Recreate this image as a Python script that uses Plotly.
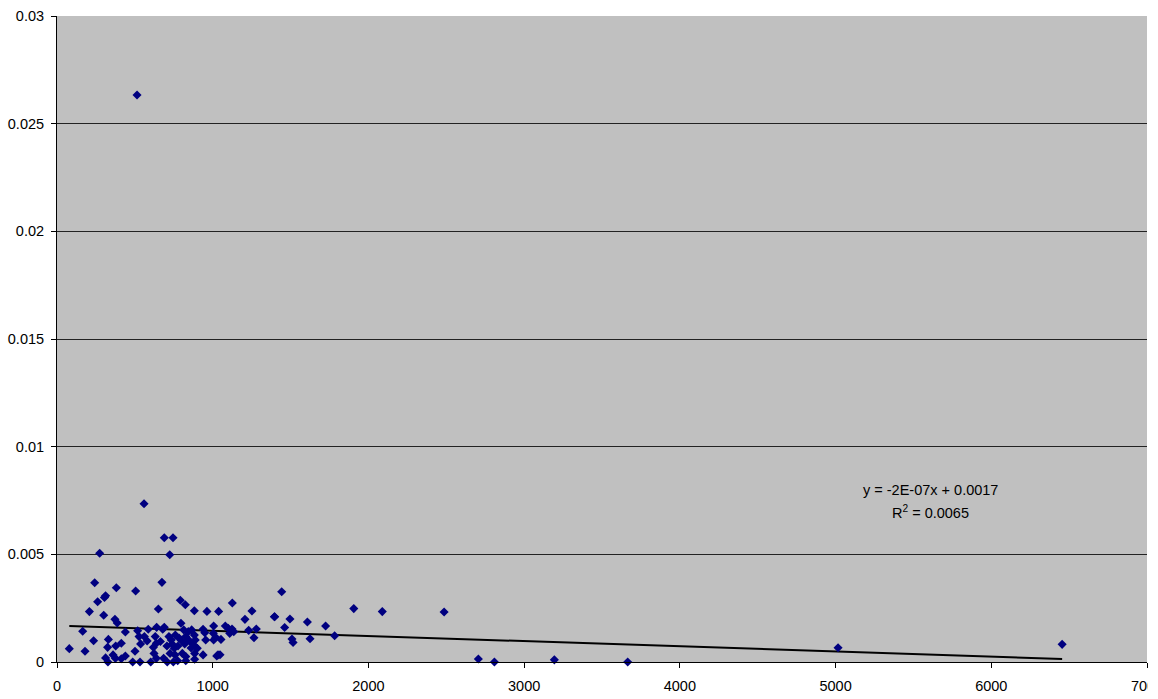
import plotly.graph_objects as go

# Data
x_vals = [274, 724, 689, 745, 559, 514, 242, 381, 674, 505, 261, 305, 312, 792, 824,
          208, 300, 372, 387, 651, 882, 963, 1038, 1126, 1207, 1252, 1396, 165, 79, 180,
          235, 330, 325, 377, 413, 312, 327, 360, 375, 413, 439, 439, 501, 486, 533,
          518, 527, 561, 537, 579, 602, 586, 640, 689, 679, 631, 638, 619, 623, 638,
          664, 685, 708, 747, 719, 734, 760, 784, 706, 739, 753, 777, 726, 758, 805,
          827, 775, 796, 814, 827, 843, 796, 820, 846, 867, 861, 884, 901, 865, 882,
          888, 827, 884, 884, 938, 949, 938, 955, 1006, 1004, 1019, 1006, 1053, 1034, 1047,
          1026, 1081, 1100, 1109, 1124, 1135, 1231, 1265, 1280, 1443, 1398, 1496, 1462, 1608, 1725,
          1509, 1516, 1625, 1783, 1906, 2089, 2486, 2706, 2809, 3194, 3665, 5016, 6455]
y_vals = [0.00505, 0.00498, 0.00577, 0.00577, 0.00735, 0.02633, 0.00368, 0.00345, 0.0037, 0.0033,
          0.0028, 0.0030, 0.00308, 0.00287, 0.00266, 0.00234, 0.00217, 0.00198, 0.00181, 0.00246,
          0.00238, 0.00235, 0.00235, 0.00274, 0.00198, 0.00237, 0.0021, 0.00143, 0.00062, 0.0005,
          0.00099, 0.00105, 0.00068, 0.00074, 0.00087, 0.00019, 0.0, 0.00033, 0.00017, 0.00015,
          0.00139, 0.00028, 0.0005, 0.0, 0.0, 0.00145, 0.00118, 0.00118, 0.00084, 0.00098,
          0.0, 0.00152, 0.00161, 0.00161, 0.00152, 0.00118, 0.00087, 0.00068, 0.0004, 0.00017,
          0.00095, 0.00017, 0.0, 0.0, 0.00118, 0.00102, 0.00125, 0.00111, 0.00074, 0.00084,
          0.00064, 0.00074, 0.0004, 0.00033, 0.0004, 0.00025, 0.00006, 0.0018, 0.00149, 0.00118,
          0.00141, 0.00102, 0.00084, 0.00102, 0.00087, 0.00065, 0.00074, 0.00064, 0.00149, 0.00125,
          0.00102, 0.00006, 0.0004, 0.00013, 0.00152, 0.00136, 0.00033, 0.00102, 0.00167, 0.00133,
          0.00115, 0.00102, 0.00105, 0.00033, 0.00034, 0.00028, 0.00167, 0.00156, 0.00133, 0.00153,
          0.00141, 0.00147, 0.00113, 0.00153, 0.00326, 0.0021, 0.002, 0.0016, 0.00186, 0.00167,
          0.00107, 0.00091, 0.00108, 0.00122, 0.00248, 0.00234, 0.00232, 0.00014, 0.0, 0.0001,
          0.0, 0.00066, 0.00082]

trend_slope = -2.4e-07
trend_intercept = 0.00169
eq_label = "y = -2E-07x + 0.0017"
r2_label = "R<sup>2</sup> = 0.0065"

x_ticks = [0, 1000, 2000, 3000, 4000, 5000, 6000, 7000]
y_ticks = [0, 0.005, 0.01, 0.015, 0.02, 0.025, 0.03]

FONT = "Liberation Sans, Arial"
FS = 14.5

x_min, x_max = min(x_vals), max(x_vals)
trend_x = [x_min, x_max]
trend_y = [trend_intercept + trend_slope * v for v in trend_x]

fig = go.Figure()
fig.add_trace(go.Scatter(
    x=trend_x, y=trend_y, mode="lines",
    line=dict(color="black", width=2), hoverinfo="skip", cliponaxis=False))
fig.add_trace(go.Scatter(
    x=x_vals, y=y_vals, mode="markers",
    marker=dict(symbol="diamond", size=7, color="#000080", line=dict(width=0)),
    cliponaxis=False))

fig.add_annotation(x=5607, y=0.0080, xref="x", yref="y", text=eq_label,
                   showarrow=False, font=dict(family=FONT, size=FS, color="black"))
fig.add_annotation(x=5607, y=0.00697, xref="x", yref="y", text=r2_label,
                   showarrow=False, font=dict(family=FONT, size=FS, color="black"))

# white strip at the right edge: the original chart area ends there and clips the last tick label
fig.add_shape(type="rect", xref="paper", yref="paper", x0=1.0005, x1=1.03, y0=-0.06, y1=-0.012,
              fillcolor="white", line=dict(width=0), layer="above")

fig.update_layout(
    width=1158, height=699,
    margin=dict(l=57, r=11, t=16, b=37, autoexpand=False),
    paper_bgcolor="white", plot_bgcolor="#C0C0C0",
    showlegend=False,
    font=dict(family=FONT, size=FS, color="black"),
)
fig.update_xaxes(range=[0, 7000], tickvals=x_ticks, tickformat="d", showgrid=False,
                 showline=True, linecolor="black", linewidth=1, ticks="outside", ticklen=5,
                 tickcolor="black", zeroline=False, ticklabelstandoff=6, automargin=False,
                 ticklabeloverflow="allow",
                 tickfont=dict(family=FONT, size=FS, color="black"))
fig.update_yaxes(range=[0, 0.03], tickvals=y_ticks, showgrid=True, gridcolor="#222222",
                 gridwidth=1, showline=True, linecolor="black", linewidth=1, ticks="outside",
                 ticklen=5, tickcolor="black", zeroline=False, ticklabelstandoff=4,
                 automargin=False,
                 tickfont=dict(family=FONT, size=FS, color="black"))

fig.write_html("out.html", config={"displayModeBar": False},
               post_script="document.body.style.margin='0';document.body.style.overflow='hidden';")
